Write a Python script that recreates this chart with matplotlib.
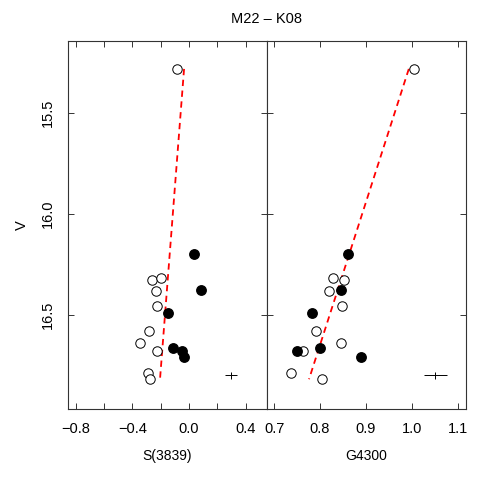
import numpy as np
import matplotlib.pyplot as plt

plt.rcParams['font.family'] = ['Liberation Sans', 'DejaVu Sans']

# V magnitudes (same stars in both panels)
v_open = [15.28, 16.328, 16.319, 16.381, 16.458, 16.579, 16.640, 16.680, 16.788, 16.821]
v_fill = [16.200, 16.379, 16.490, 16.667, 16.680, 16.710]

# S(3839) index
s_open = [-0.087, -0.261, -0.200, -0.236, -0.226, -0.283, -0.344, -0.228, -0.292, -0.278]
s_fill = [0.038, 0.087, -0.151, -0.115, -0.052, -0.037]

# G4300 index
g_open = [1.005, 0.852, 0.829, 0.820, 0.848, 0.792, 0.845, 0.764, 0.736, 0.805]
g_fill = [0.861, 0.846, 0.783, 0.799, 0.749, 0.888]

# fitted trend lines (end points) and typical errors
s_fit_x = [-0.035, -0.205]
g_fit_x = [0.993, 0.776]
fit_v = [15.28, 16.82]
s_err = (0.297, 16.80, 0.045, 0.017)
g_err = (1.05, 16.80, 0.025, 0.017)

fig = plt.figure(figsize=(4.79, 4.79), dpi=100)
ax1 = fig.add_axes([0.1426, 0.1461, 0.4142, 0.7693])
ax2 = fig.add_axes([0.5568, 0.1461, 0.4154, 0.7693])

panels = [
    (ax1, s_open, s_fill, s_fit_x, s_err, 'S(3839)', (-0.853, 0.549),
     [-0.8, -0.6, -0.4, -0.2, 0.0, 0.2, 0.4], ['\u22120.8', '', '\u22120.4', '', '0.0', '', '0.4']),
    (ax2, g_open, g_fill, g_fit_x, g_err, 'G4300', (0.684, 1.1167),
     [0.7, 0.8, 0.9, 1.0, 1.1], ['0.7', '0.8', '0.9', '1.0', '1.1']),
]

for ax, xo, xf, fx, err, lab, xl, ticks, tlabels in panels:
    ax.plot(fx, fit_v, color='red', lw=1.3, dashes=(3.5, 2.5))
    ax.plot(xo, v_open, 'o', mfc='white', mec='black', mew=0.7, ms=6.8)
    ax.plot(xf, v_fill, 'o', mfc='black', mec='black', ms=6.8)
    ax.errorbar(err[0], err[1], xerr=err[2], yerr=err[3], color='black',
                lw=0.7, capsize=0)
    ax.set_xlim(*xl)
    ax.set_ylim(16.968, 15.139)
    ax.set_xticks(ticks)
    ax.set_xticklabels(tlabels)
    ax.set_yticks([15.5, 16.0, 16.5])
    ax.set_xlabel(lab, fontsize=10, labelpad=10)
    ax.tick_params(direction='in', length=4, width=0.7, top=True, right=True,
                   labelsize=10.5, color='#333333')
    ax.tick_params(axis='x', pad=9)
    for sp in ax.spines.values():
        sp.set_linewidth(0.8)
        sp.set_color('#333333')

ax1.set_yticklabels(['15.5', '16.0', '16.5'], rotation=90, va='center')
ax1.tick_params(axis='y', pad=10)
ax1.set_ylabel('V', fontsize=10.5, labelpad=8)
ax2.set_yticklabels([])

fig.text(0.556, 0.961, 'M22 \u2013 K08', ha='center', va='center', fontsize=10.5)

fig.savefig('out.png', dpi=100)
